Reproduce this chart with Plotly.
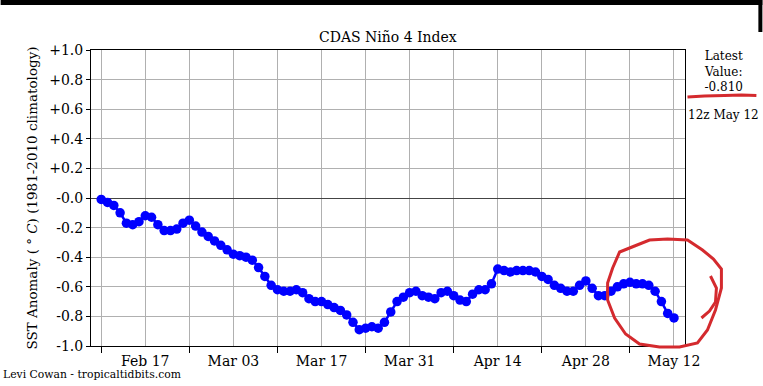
import pandas as pd
import plotly.graph_objects as go

# ---- data ----
start_date = "2023-02-10"
nino4_anom = [
    -0.01, -0.03, -0.05, -0.10, -0.17, -0.18, -0.16, -0.12, -0.13, -0.18,
    -0.22, -0.22, -0.21, -0.17, -0.15, -0.19, -0.23, -0.26, -0.29, -0.32,
    -0.35, -0.38, -0.39, -0.40, -0.42, -0.47, -0.53, -0.59, -0.62, -0.63,
    -0.63, -0.62, -0.64, -0.68, -0.70, -0.70, -0.72, -0.74, -0.76, -0.79,
    -0.84, -0.89, -0.88, -0.87, -0.88, -0.84, -0.77, -0.70, -0.67, -0.64,
    -0.63, -0.66, -0.67, -0.68, -0.64, -0.63, -0.66, -0.69, -0.70, -0.65,
    -0.62, -0.62, -0.58, -0.48, -0.49, -0.50, -0.49, -0.49, -0.49, -0.50,
    -0.53, -0.55, -0.59, -0.61, -0.63, -0.63, -0.59, -0.56, -0.61, -0.66,
    -0.66, -0.63, -0.60, -0.58, -0.57, -0.58, -0.58, -0.59, -0.63, -0.70,
    -0.78, -0.81,
]
dates = pd.date_range(start_date, periods=len(nino4_anom), freq="D")

major_ticks = ["2023-02-17", "2023-03-03", "2023-03-17", "2023-03-31",
               "2023-04-14", "2023-04-28", "2023-05-12"]
major_labels = ["Feb 17", "Mar 03", "Mar 17", "Mar 31", "Apr 14", "Apr 28", "May 12"]
minor_ticks = ["2023-02-10", "2023-02-24", "2023-03-10", "2023-03-24",
               "2023-04-07", "2023-04-21", "2023-05-05"]
y_ticks = [1.0, 0.8, 0.6, 0.4, 0.2, 0.0, -0.2, -0.4, -0.6, -0.8, -1.0]
y_labels = ["+1.0", "+0.8", "+0.6", "+0.4", "+0.2", "-0.0",
            "-0.2", "-0.4", "-0.6", "-0.8", "-1.0"]
latest_text = "Latest<br>Value:<br>-0.810"
latest_time = "12z May 12"

# ---- layout geometry (pixels) ----
W, H = 763, 386
L, R, T, B = 90.5, 685.5, 50, 346
FONT = "DejaVu Serif, Liberation Serif, serif"


def px(x):
    return (x - L) / (R - L)


def py(y):
    return (B - y) / (B - T)


def path(points):
    return "M " + " L ".join(f"{px(a):.4f},{py(b):.4f}" for a, b in points)


fig = go.Figure()
fig.add_trace(go.Scatter(
    x=dates, y=nino4_anom, mode="lines+markers",
    line=dict(color="#0000ff", width=2.5),
    marker=dict(color="#0000ff", size=9.5),
    hoverinfo="x+y", showlegend=False,
))

fig.update_layout(
    width=W, height=H,
    margin=dict(l=L, r=W - R, t=T, b=H - B, pad=0),
    paper_bgcolor="white", plot_bgcolor="white",
    font=dict(family=FONT, color="black", size=14),
    showlegend=False,
)
fig.update_xaxes(
    type="date",
    range=["2023-02-08 09:00", "2023-05-13 18:00"],
    tickmode="array", tickvals=major_ticks, ticktext=major_labels,
    ticks="outside", ticklen=2, tickcolor="rgba(0,0,0,0)",
    tickfont=dict(size=14, family=FONT),
    showgrid=True, gridcolor="#b0b0b0", gridwidth=1,
    minor=dict(tickmode="array", tickvals=minor_ticks, ticks="outside",
               ticklen=6, tickcolor="black", tickwidth=1,
               showgrid=True, gridcolor="#b0b0b0", gridwidth=1),
    showline=True, linecolor="black", linewidth=1, mirror=True,
    zeroline=False,
)
fig.update_yaxes(
    range=[-1.0, 1.0],
    tickmode="array", tickvals=y_ticks, ticktext=y_labels,
    ticks="outside", ticklen=4, tickcolor="black",
    tickfont=dict(size=14, family=FONT),
    showgrid=True, gridcolor="#b0b0b0", gridwidth=1,
    zeroline=True, zerolinecolor="#444444", zerolinewidth=1,
    showline=True, linecolor="black", linewidth=1, mirror=True,
    title=dict(text="SST Anomaly ( \u00b0 <i>C</i>) (1981-2010 climatology)",
               font=dict(size=13.5, family=FONT), standoff=8),
)

ann = [
    dict(text="CDAS Ni\u00f1o 4 Index", x=0.5, y=py(37), size=14),
    dict(text=latest_text, x=px(724), y=py(71), size=12),
    dict(text=latest_time, x=px(724), y=py(115), size=12),
]
for a in ann:
    fig.add_annotation(text=a["text"], x=a["x"], y=a["y"], xref="paper", yref="paper",
                       showarrow=False, xanchor="center", yanchor="middle",
                       font=dict(size=a["size"], family=FONT, color="black"))
fig.add_annotation(text="Levi Cowan - tropicaltidbits.com", x=px(0), y=py(374),
                   xref="paper", yref="paper", showarrow=False,
                   xanchor="left", yanchor="middle",
                   font=dict(size=10.8, family=FONT, color="black"))

# screenshot frame artifacts
fig.add_shape(type="rect", xref="paper", yref="paper",
              x0=px(0), x1=px(763), y0=py(5), y1=py(0),
              fillcolor="black", line=dict(width=0))
fig.add_shape(type="rect", xref="paper", yref="paper",
              x0=px(759), x1=px(763), y0=py(32), y1=py(0),
              fillcolor="black", line=dict(width=0))

# hand-drawn red marks
red = "#d42a2e"
fig.add_shape(type="path", xref="paper", yref="paper",
              path=path([(688, 97), (705, 96), (725, 95.5), (742, 95), (757, 95.5)]),
              line=dict(color=red, width=3))
circle = [(613, 268), (620, 252), (635, 246), (650, 240), (668, 239), (688, 240),
          (703, 250), (714, 259), (722, 269), (722, 288), (716, 310), (708, 330),
          (698, 343), (680, 347), (660, 347), (640, 344), (626, 334), (615, 318),
          (608, 300), (608, 283), (613, 268)]
fig.add_shape(type="path", xref="paper", yref="paper", path=path(circle),
              line=dict(color=red, width=3))
fig.add_shape(type="path", xref="paper", yref="paper",
              path=path([(711, 276), (717, 288), (716, 302), (710, 311), (702, 318)]),
              line=dict(color=red, width=3))

fig.write_html("out.html", config={"displayModeBar": False},
               post_script="document.body.style.margin='0';")
